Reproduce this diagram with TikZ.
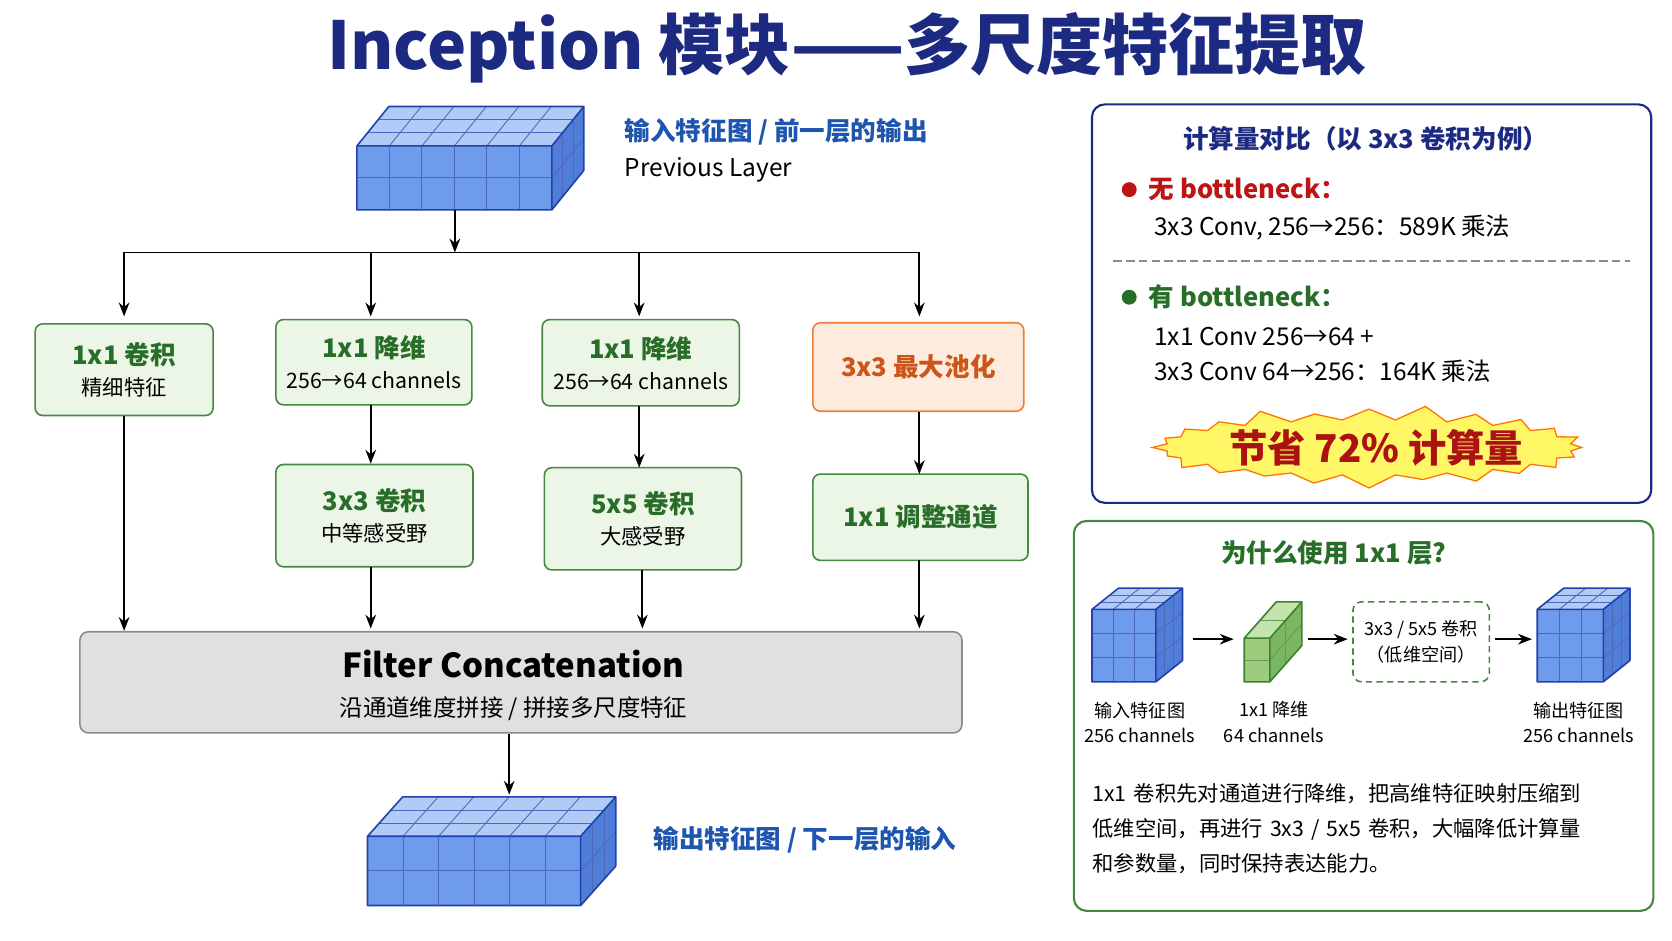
\documentclass[tikz,border=0pt]{standalone}
\usepackage{fontspec}
\setmainfont{Noto Sans CJK SC}
\usetikzlibrary{shapes.symbols,arrows.meta}
\definecolor{navy}{RGB}{28,42,130}
\definecolor{tblue}{RGB}{30,85,175}
\definecolor{gtxt}{RGB}{40,110,40}
\definecolor{gfill}{RGB}{236,246,230}
\definecolor{gline}{RGB}{70,135,65}
\definecolor{ofill}{RGB}{253,236,222}
\definecolor{oline}{RGB}{236,125,60}
\definecolor{otxt}{RGB}{205,85,25}
\definecolor{rtxt}{RGB}{190,20,20}
\definecolor{cfB}{RGB}{110,155,235}
\definecolor{ctB}{RGB}{175,203,246}
\definecolor{crB}{RGB}{80,125,215}
\definecolor{clB}{RGB}{35,65,170}
\definecolor{cfG}{RGB}{155,205,125}
\definecolor{ctG}{RGB}{195,228,170}
\definecolor{crG}{RGB}{125,182,98}
\definecolor{clG}{RGB}{60,130,50}
\newcommand\mycube[9]{%
 \fill[\cF] (#1,#2) rectangle ({#1+#3},{#2+#4});
 \fill[\cT] (#1,#2)--({#1+#5},{#2-#6})--({#1+#3+#5},{#2-#6})--({#1+#3},#2)--cycle;
 \fill[\cR] ({#1+#3},#2)--({#1+#3+#5},{#2-#6})--({#1+#3+#5},{#2+#4-#6})--({#1+#3},{#2+#4})--cycle;
 \begin{scope}[draw=\cL!80,line width=0.8pt]
 \foreach \i in {1,...,#7}{\draw ({#1+\i*#3/#7},#2)--++(0,#4); \draw ({#1+\i*#3/#7},#2)--++(#5,-#6);}
 \foreach \k in {1,...,#8}{\draw (#1,{#2+\k*#4/#8})--++(#3,0); \draw ({#1+#3},{#2+\k*#4/#8})--++(#5,-#6);}
 \foreach \j in {1,...,#9}{\draw ({#1+\j*#5/#9},{#2-\j*#6/#9})--++(#3,0); \draw ({#1+#3+\j*#5/#9},{#2-\j*#6/#9})--++(0,#4);}
 \end{scope}
 \draw[\cL,line width=1.5pt,line join=round] (#1,#2) rectangle ({#1+#3},{#2+#4})
   (#1,#2)--({#1+#5},{#2-#6})--({#1+#3+#5},{#2-#6})--({#1+#3},#2)
   ({#1+#3+#5},{#2-#6})--({#1+#3+#5},{#2+#4-#6})--({#1+#3},{#2+#4});
}
\tikzset{
 gbox/.style={draw=gline,fill=gfill,rounded corners=7pt,line width=1.5pt,align=center,text=black,font=\fontsize{20}{29}\selectfont},
 arr/.style={-{Stealth[length=13pt,width=10pt]},line width=1.8pt},
 sm/.style={font=\fontsize{17}{24}\selectfont,align=center},
}
\begin{document}
\begin{tikzpicture}[x=1pt,y=-1pt]
\useasboundingbox (0,0) rectangle (1569.5,883.3);
\node[font=\fontsize{62}{70}\selectfont\bfseries,text=navy] (title) at (795,45) {Inception 模块——多尺度特征提取};
% top cube
\def\cF{cfB}\def\cT{ctB}\def\cR{crB}\def\cL{clB}
\mycube{335}{137}{183}{60}{30}{37}{6}{2}{3}
\coordinate (tc) at (427,197);
\node[anchor=west,font=\fontsize{24}{30}\selectfont\bfseries,text=tblue] (tl1) at (583,124) {输入特征图 / 前一层的输出};
\node[anchor=west,font=\fontsize{23}{30}\selectfont] (tl2) at (583,159) {Previous Layer};
% boxes
\node[gbox,minimum width=167pt,minimum height=86pt] (b1) at (116.5,347) {\textcolor{gtxt}{\bfseries\fontsize{24}{30}\selectfont 1x1 卷积}\\精细特征};
\node[gbox,minimum width=184pt,minimum height=80pt] (b2) at (351,340) {\textcolor{gtxt}{\bfseries\fontsize{24}{30}\selectfont 1x1 降维}\\256→64 channels};
\node[gbox,minimum width=185pt,minimum height=81pt] (b3) at (601.5,340.5) {\textcolor{gtxt}{\bfseries\fontsize{24}{30}\selectfont 1x1 降维}\\256→64 channels};
\node[draw=oline,fill=ofill,rounded corners=7pt,line width=1.5pt,minimum width=198pt,minimum height=83pt,font=\fontsize{24}{30}\selectfont\bfseries,text=otxt] (b4) at (862,344.5) {3x3 最大池化};
\node[gbox,minimum width=185pt,minimum height=96pt] (b5) at (351.5,484) {\textcolor{gtxt}{\bfseries\fontsize{24}{30}\selectfont 3x3 卷积}\\中等感受野};
\node[gbox,minimum width=185pt,minimum height=96pt] (b6) at (603.5,487) {\textcolor{gtxt}{\bfseries\fontsize{24}{30}\selectfont 5x5 卷积}\\大感受野};
\node[gbox,minimum width=202pt,minimum height=81pt,font=\fontsize{24}{30}\selectfont\bfseries,text=gtxt] (b7) at (864,485.5) {1x1 调整通道};
\node[draw=black!45,fill=black!12,rounded corners=8pt,line width=1.5pt,minimum width=828pt,minimum height=95pt] (cc) at (489,640.5) {};
\node[font=\fontsize{31}{38}\selectfont\bfseries] (cct) at (482,623) {Filter Concatenation};
\node[font=\fontsize{22}{30}\selectfont] (ccs) at (482,665) {沿通道维度拼接 / 拼接多尺度特征};
% connectors
\coordinate (hj) at (427,237);
\draw[line width=1.8pt] (115,237) -- (863,237);
\draw[arr] (tc) -- (hj);
\draw[arr] (hj -| b1.north) -- (b1.north |- 0,297);
\draw[arr] (348,237) -- (348,297);
\draw[arr] (600,237) -- (600,297);
\draw[arr] (863,237) -- (863,297);
\draw[arr] (348,380) -- (b5.north -| 348,0);
\draw[arr] (600,381) -- (600,439);
\draw[arr] (b4.south -| 863,0) -- (863,445);
\draw[arr] (b1.south) -- (b1.south |- cc.north);
\draw[arr] (348,532) -- (348,590);
\draw[arr] (603,535) -- (603,590);
\draw[arr] (863,526) -- (863,590);
% bottom cube
\mycube{345}{785}{200}{65}{33}{37}{6}{2}{3}
\coordinate (bc) at (478,746);
\draw[arr] (cc.south -| 478,0) -- (bc);
\node[anchor=west,font=\fontsize{24}{30}\selectfont\bfseries,text=tblue] (bl) at (610,788) {输出特征图 / 下一层的输入};
% right top panel
\node[draw=navy,rounded corners=12pt,line width=2pt,minimum width=525pt,minimum height=374pt] (p1) at (1287.5,285) {};
\node[font=\fontsize{24}{30}\selectfont\bfseries,text=navy] (p1t) at (1282,130) {计算量对比（以 3x3 卷积为例）};
\node[circle,fill=rtxt,inner sep=0pt,minimum size=14pt] (d1) at (1060,178) {};
\node[anchor=west,font=\fontsize{24}{30}\selectfont\bfseries,text=rtxt] (n1) at (1075,178) {无 bottleneck：};
\node[anchor=west,font=\fontsize{23}{30}\selectfont] (n2) at (1080,214) {3x3 Conv, 256→256：589K 乘法};
\coordinate (dl1) at (1045,245); \coordinate (dl2) at (1530,245);
\draw[black!45,line width=1.2pt,dash pattern=on 8pt off 4pt] (dl1) -- (dl2);
\node[circle,fill=gtxt,inner sep=0pt,minimum size=14pt] (d2) at (1060,279) {};
\node[anchor=west,font=\fontsize{24}{30}\selectfont\bfseries,text=gtxt] (n3) at (1075,279) {有 bottleneck：};
\node[anchor=west,font=\fontsize{23}{30}\selectfont] (n4) at (1080,316) {1x1 Conv 256→64 +};
\node[anchor=west,font=\fontsize{23}{30}\selectfont] (n5) at (1080,348) {3x3 Conv 64→256：164K 乘法};
\node[starburst,starburst points=24,starburst point height=14pt,draw=orange!90!red,fill=yellow!60,line width=1.2pt,minimum width=410pt,minimum height=80pt,inner sep=0pt] (sb) at (1285,420) {};
\node[font=\fontsize{36}{40}\selectfont\bfseries,text=rtxt!90!black] (sbt) at (1292,420) {节省 72\% 计算量};
% right bottom panel
\node[draw=gline,rounded corners=12pt,line width=2pt,minimum width=544pt,minimum height=366pt] (p2) at (1280,672) {};
\node[font=\fontsize{24}{30}\selectfont\bfseries,text=gtxt] (p2t) at (1252,519) {为什么使用 1x1 层?};
\mycube{1025}{572}{60}{68}{25}{20}{3}{3}{3}
\def\cF{cfG}\def\cT{ctG}\def\cR{crG}\def\cL{clG}
\mycube{1168}{599}{24}{41}{30}{34}{1}{2}{2}
\def\cF{cfB}\def\cT{ctB}\def\cR{crB}\def\cL{clB}
\mycube{1443}{572}{62}{68}{25}{20}{3}{3}{3}
\coordinate (a1) at (1120,600); \coordinate (a2) at (1158,600);
\coordinate (a3) at (1228,600); \coordinate (a4) at (1265,600);
\coordinate (a5) at (1403,600); \coordinate (a6) at (1438,600);
\draw[arr] (a1) -- (a2); \draw[arr] (a3) -- (a4); \draw[arr] (a5) -- (a6);
\node[draw=gline,dash pattern=on 6pt off 4pt,rounded corners=8pt,line width=1.5pt,minimum width=128pt,minimum height=75pt,sm] (db) at (1334,602.5) {3x3 / 5x5 卷积\\（低维空间）};
\node[sm] (l1) at (1070,678) {输入特征图\\256 channels};
\node[sm] (l2) at (1196,678) {1x1 降维\\64 channels};
\node[sm] (l3) at (1482,678) {输出特征图\\256 channels};
\node[anchor=north west,align=left,font=\fontsize{20}{33}\selectfont,text width=500pt] (para) at (1022,732) {1x1 卷积先对通道进行降维，把高维特征映射压缩到\\低维空间，再进行 3x3 / 5x5 卷积，大幅降低计算量\\和参数量，同时保持表达能力。};
\end{tikzpicture}
\end{document}
